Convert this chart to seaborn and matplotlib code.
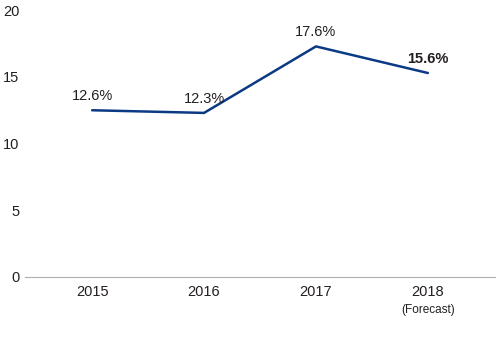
import matplotlib
matplotlib.use("Agg")
import numpy as np
import pandas as pd
import seaborn as sns
import matplotlib.pyplot as plt

years = ["2015", "2016", "2017", "2018"]
values = [12.5, 12.3, 17.3, 15.3]
labels = ["12.6%", "12.3%", "17.6%", "15.6%"]
yticks = [0, 5, 10, 15, 20]
forecast_note = "(Forecast)"

data = pd.DataFrame({"year": years, "value": values})

sns.set_theme(style="white")
plt.rcParams["font.family"] = ["Liberation Sans", "DejaVu Sans"]

fig, ax = plt.subplots(figsize=(5, 3.5), dpi=100)
fig.subplots_adjust(left=0.05, right=0.99, top=0.97, bottom=0.21)

sns.lineplot(data=data, x="year", y="value", color="#0b3a84", linewidth=1.8, ax=ax, sort=False)

for i, (v, lab) in enumerate(zip(values, labels)):
    bold = i == len(values) - 1
    ax.annotate(lab, (i, v), xytext=(0, 5), textcoords="offset points",
                ha="center", va="bottom", fontsize=10.5,
                fontweight="bold" if bold else "normal", color="#231f20")

# forecast note under the last year
ax.annotate(forecast_note, (len(years) - 1, 0), xytext=(0, -20), textcoords="offset points",
            ha="center", va="top", fontsize=8.5, color="#231f20")

ax.set_xlim(-0.6, 3.6)
ax.set_ylim(0, 20)
ax.set_yticks(yticks)
ax.set_xlabel("")
ax.set_ylabel("")
for s in ["top", "right", "left"]:
    ax.spines[s].set_visible(False)
ax.spines["bottom"].set_color("#b0b0b0")
ax.spines["bottom"].set_linewidth(0.8)
ax.tick_params(axis="both", length=0, labelsize=10.5, labelcolor="#231f20")
ax.tick_params(axis="y", pad=4)
ax.tick_params(axis="x", pad=6)

plt.savefig("out.png")
